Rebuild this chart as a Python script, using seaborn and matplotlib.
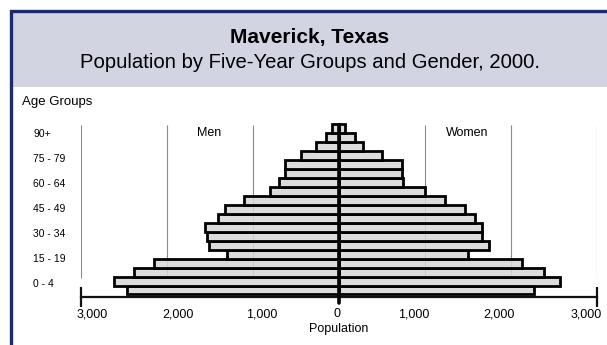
import numpy as np
import pandas as pd
import matplotlib
matplotlib.use("Agg")
import matplotlib.pyplot as plt
from matplotlib.patches import Rectangle
import seaborn as sns

# age groups, youngest first
ages = ["0 - 4", "5 - 9", "10 - 14", "15 - 19", "20 - 24", "25 - 29", "30 - 34",
        "35 - 39", "40 - 44", "45 - 49", "50 - 54", "55 - 59", "60 - 64", "65 - 69",
        "70 - 74", "75 - 79", "80 - 84", "85 - 89", "90+"]
men = [2460, 2610, 2380, 2150, 1300, 1510, 1530, 1550, 1400, 1320,
       1100, 800, 690, 620, 620, 440, 265, 150, 80]
women = [2270, 2580, 2385, 2130, 1510, 1745, 1665, 1665, 1590, 1470,
         1240, 1010, 755, 735, 735, 500, 290, 195, 80]

age_tick_labels = ["0 - 4", "15 - 19", "30 - 34", "45 - 49", "60 - 64", "75 - 79", "90+"]
x_ticks = [-3000, -2000, -1000, 0, 1000, 2000, 3000]
x_tick_labels = ["3,000", "2,000", "1,000", "0", "1,000", "2,000", "3,000"]

df = pd.DataFrame({
    "age": ages * 2,
    "sex": ["Men"] * len(ages) + ["Women"] * len(ages),
    "value": [-v for v in men] + women,
})

sns.set_style("white")
plt.rcParams["font.family"] = ["Liberation Sans", "DejaVu Sans"]
plt.rcParams["text.color"] = "black"
plt.rcParams["axes.labelcolor"] = "black"
plt.rcParams["xtick.color"] = "black"
plt.rcParams["ytick.color"] = "black"

W, H = 607, 345
fig = plt.figure(figsize=(W / 100, H / 100), dpi=100)

navy = "#1d2a6e"
# outer frame and header band
fig.add_artist(Rectangle((11 / W, 1 - 87 / H), 1.2, 76 / H, transform=fig.transFigure,
                         facecolor="#d2d4e2", edgecolor="none", zorder=0))
fig.add_artist(Rectangle((11 / W, -0.1), 1.2, 1.1 - 11 / H, transform=fig.transFigure,
                         facecolor="none", edgecolor=navy, lw=2.4, zorder=0))
fig.text(310 / W, 1 - 38 / H, "Maverick, Texas", ha="center", va="center",
         fontsize=15, fontweight="bold")
fig.text(310 / W, 1 - 63 / H, "Population by Five-Year Groups and Gender, 2000.",
         ha="center", va="center", fontsize=14.6)
fig.text(22 / W, 1 - 102 / H, "Age Groups", ha="left", va="center", fontsize=9.5)

ax = fig.add_axes([80.5 / W, (H - 297) / H, 516 / W, 175 / H])
ax.patch.set_alpha(0)

sns.barplot(data=df, y="age", x="value", hue="sex", order=ages,
            hue_order=["Men", "Women"], dodge=False, orient="h",
            palette=["#d6d6d6", "#d6d6d6"], edgecolor="black", linewidth=2,
            width=1.0, errorbar=None, legend=False, ax=ax, zorder=2)
for p in ax.patches:
    p.set_facecolor((0.84, 0.84, 0.84, 0.85))

ax.set_xlim(-3000, 3000)
ax.set_ylim(-0.78, 18.73)

# grid lines and centre line
ax.vlines([t for t in x_ticks if t != 0], 1.3, 18.4, color="#8a8a8a", lw=0.8, zorder=1)
ax.plot([0, 0], [-1.4, 18.4], color="black", lw=2.6, clip_on=False, zorder=5)
ax.plot([x_ticks[0], x_ticks[-1]], [-0.78, -0.78], ls="none", marker="|", ms=15,
        mew=1.6, color="#111111", clip_on=False, zorder=5)

for s in ["top", "left", "right"]:
    ax.spines[s].set_visible(False)
ax.spines["bottom"].set_linewidth(1.6)
ax.spines["bottom"].set_color("#111111")

ax.set_xticks(x_ticks, labels=[""] * len(x_ticks))
ax.tick_params(axis="x", which="major", direction="inout", length=9, width=1.5,
               colors="#111111")
shift = [140, 130, 110, -20, -130, -130, -125]
ax.set_xticks([t + s for t, s in zip(x_ticks, shift)], labels=x_tick_labels, minor=True)
ax.tick_params(axis="x", which="minor", length=0, pad=8, labelsize=9, labelcolor="black")

ax.set_yticks(np.linspace(0.78, 17.5, 7), labels=age_tick_labels)
ax.tick_params(axis="y", length=0, pad=34, labelsize=7.5)
for lab in ax.get_yticklabels():
    lab.set_horizontalalignment("left")

ax.set_ylabel("")
ax.set_xlabel("Population", fontsize=9, labelpad=2)

ax.text(-1500, 17.55, "Men", ha="center", va="center", fontsize=9)
ax.text(1500, 17.55, "Women", ha="center", va="center", fontsize=9)

fig.savefig("out.png", dpi=100)
